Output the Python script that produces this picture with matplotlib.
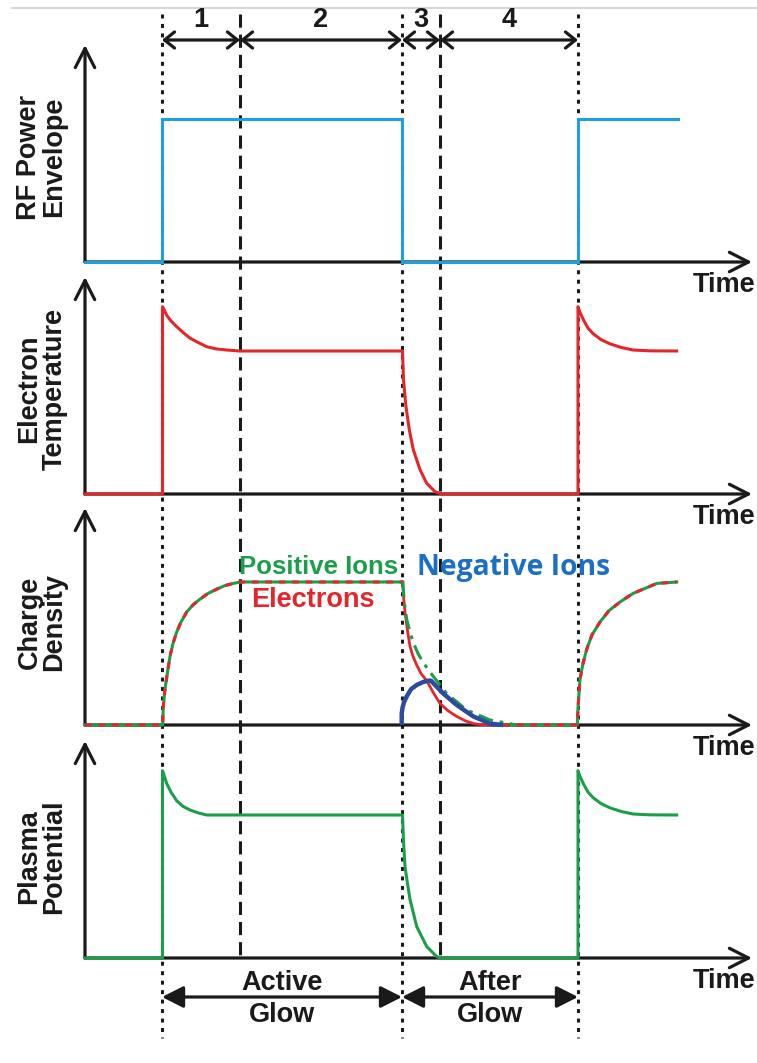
import matplotlib
matplotlib.use("Agg")
import matplotlib.pyplot as plt
from matplotlib.patches import FancyArrowPatch

# ---------------- data (time in arbitrary units, values normalised) ----------------
T_ON, T_P1, T_OFF, T_P3, T_ON2, T_END = 77, 155, 317, 355, 493, 593
T_AXIS_END = 667
phase_bounds = [T_ON, T_P1, T_OFF, T_P3, T_ON2]
phase_labels = ["1", "2", "3", "4"]
glow_labels = ["Active\nGlow", "After\nGlow"]
panel_labels = ["RF Power\nEnvelope", "Electron\nTemperature", "Charge\nDensity", "Plasma\nPotential"]

power_t = [0, 77, 77, 317, 317, 493, 493, 593]
power_v = [0, 0, 1, 1, 0, 0, 1, 1]

te_t = [0, 77.5, 77.5, 79, 81.7, 86, 91.7, 98, 105, 113, 121.7, 131, 141.7, 155,
        317.5, 318.5, 321, 324.3, 328.3, 335, 341.7, 350, 356.7,
        493, 493, 495, 498.3, 503, 508.3, 516, 525, 536, 548, 565, 591.7]
te_v = [0, 0, 1.31, 1.29, 1.25, 1.21, 1.17, 1.13, 1.09, 1.06, 1.03, 1.015, 1.007, 1.0,
        1.0, 0.80, 0.61, 0.45, 0.31, 0.17, 0.075, 0.016, 0,
        0, 1.31, 1.27, 1.22, 1.16, 1.12, 1.08, 1.05, 1.025, 1.007, 1.001, 1.0]

# active glow part (electrons == positive ions)
n_on_t = [0, 77.7, 78.3, 80, 82.5, 85, 88, 91.7, 96, 101.7, 108, 115, 123, 131.7, 140, 148.3, 155, 317.7]
n_on_v = [0, 0, 0.13, 0.25, 0.37, 0.48, 0.57, 0.65, 0.72, 0.79, 0.84, 0.88, 0.92, 0.95, 0.975, 0.99, 1.0, 1.0]
# afterglow electrons
ne_fall_t = [317.7, 318.7, 320, 322.5, 325, 328, 331.7, 336, 341.7, 348, 355, 363, 371.7, 380, 388.3, 396, 405]
ne_fall_v = [1.0, 0.88, 0.79, 0.66, 0.55, 0.48, 0.42, 0.36, 0.31, 0.23, 0.15, 0.10, 0.06, 0.03, 0.01, 0.003, 0]
# afterglow positive ions
ni_fall_t = [317.7, 319.5, 321.7, 325, 328.3, 333, 338.3, 348.3, 361.7, 381.7, 405, 431.7]
ni_fall_v = [1.0, 0.85, 0.74, 0.65, 0.575, 0.50, 0.435, 0.34, 0.22, 0.105, 0.035, 0]
# baseline + next pulse (electrons == positive ions)
n_next_t = [405, 492.3, 493, 495, 498, 501.7, 507, 515, 524, 535, 548, 561.7, 571.7, 591.7]
n_next_v = [0, 0, 0.12, 0.32, 0.43, 0.53, 0.63, 0.72, 0.80, 0.86, 0.92, 0.96, 0.99, 1.0]
# negative ions
nneg_t = [316.7, 316.7, 317.5, 319, 321.7, 326, 331.7, 338, 343.3, 346, 350, 358.3, 371.7, 388.3, 405, 418.3]
nneg_v = [0, 0.08, 0.12, 0.16, 0.20, 0.25, 0.28, 0.30, 0.31, 0.31, 0.28, 0.22, 0.14, 0.06, 0.01, 0]

pp_t = [0, 77.5, 77.5, 79, 81.7, 86, 91.7, 98, 105, 113, 121.7, 135, 155,
        317.5, 318.5, 320, 322.5, 325, 331.7, 341.7, 351.7, 355,
        493, 493, 495, 498.3, 503, 508.3, 516, 525, 536, 548, 565, 591.7]
pp_v = [0, 0, 1.31, 1.28, 1.22, 1.16, 1.10, 1.06, 1.035, 1.015, 1.0, 1.0, 1.0,
        1.0, 0.82, 0.64, 0.52, 0.41, 0.22, 0.08, 0.01, 0,
        0, 1.31, 1.27, 1.22, 1.16, 1.12, 1.08, 1.05, 1.025, 1.007, 1.001, 1.0]

# ---------------- style ----------------
BLUE = "#1E9FE2"
RED = "#E3262B"
GREEN = "#1A9E4A"
NAVY = "#2B4C9E"
NEGTXT = "#1B6FC4"
AX = "#1a1a1a"
FS = 19.5
plt.rcParams["font.family"] = ["Liberation Sans", "DejaVu Sans"]

W, H = 757, 1063
fig = plt.figure(figsize=(W / 100, H / 100), dpi=100)

X0 = 85  # pixel of t = 0
XL = (-X0, W - X0)

# overlay axes: x in time units, y in pixels (top = 0)
ov = fig.add_axes([0, 0, 1, 1])
ov.set_xlim(*XL)
ov.set_ylim(H, 0)
ov.axis("off")

# light rule at very top
ov.plot([12 - X0, W - X0], [8, 8], color="#cfcfcf", lw=1.2)

# vertical phase markers
dotted = dict(color=AX, lw=2.2, linestyle=(0, (1.3, 1.8)))
dashed = dict(color=AX, lw=2.2, linestyle=(0, (4.3, 2.3)))
for t in [T_ON, T_OFF, T_ON2]:
    ov.plot([t, t], [14, 1038], **dotted)
for t in [T_P1, T_P3]:
    ov.plot([t, t], [14, 960], **dashed)

# top phase arrows
for i in range(4):
    a, b = phase_bounds[i], phase_bounds[i + 1]
    ov.add_patch(FancyArrowPatch((a, 40), (b, 40), arrowstyle="<->,head_length=0.36,head_width=0.29",
                                 mutation_scale=20, lw=2.3, color=AX, shrinkA=0, shrinkB=0))
    ov.text((a + b) / 2, 20, phase_labels[i], ha="center", va="center",
            fontsize=FS, fontweight="bold", color=AX)

# bottom glow arrows
glow_bounds = [T_ON, T_OFF, T_ON2]
for i in range(2):
    a, b = glow_bounds[i], glow_bounds[i + 1]
    ov.add_patch(FancyArrowPatch((a, 997), (b, 997), arrowstyle="<|-|>,head_length=0.65,head_width=0.33",
                                 mutation_scale=20, lw=2.3, color=AX, shrinkA=0, shrinkB=0))
    top, bot = glow_labels[i].split("\n")
    ov.text((a + b) / 2, 983, top, ha="center", va="center", fontsize=FS, fontweight="bold", color=AX)
    ov.text((a + b) / 2, 1015, bot, ha="center", va="center", fontsize=FS, fontweight="bold", color=AX)

# ---------------- panels ----------------
baselines = [262, 494, 725, 958]
label_y = [157, 389, 622, 857]
UNIT = 143.0   # pixels per value unit
TOP = 217.0    # axis arrow length in pixels
PAD = 20.0

axes = []
for B in baselines:
    ax = fig.add_axes([0, (H - B - PAD) / H, 1, (TOP + PAD + 5) / H])
    ax.set_xlim(*XL)
    ax.set_ylim(-PAD / UNIT, (TOP + 5) / UNIT)
    ax.axis("off")
    ax.annotate("", xy=(0, TOP / UNIT), xytext=(0, 0),
                arrowprops=dict(arrowstyle="->,head_length=0.55,head_width=0.28", mutation_scale=25,
                                lw=2.3, color=AX, shrinkA=0, shrinkB=0))
    ax.annotate("", xy=(T_AXIS_END, 0), xytext=(0, 0),
                arrowprops=dict(arrowstyle="->,head_length=0.55,head_width=0.28", mutation_scale=25,
                                lw=2.3, color=AX, shrinkA=0, shrinkB=0))
    axes.append(ax)

for B, ly, lab in zip(baselines, label_y, panel_labels):
    ov.text(724 - X0, B + 23, "Time", ha="center", va="center", fontsize=FS, fontweight="bold", color=AX)
    ov.text(42 - X0, ly, lab, ha="center", va="center", rotation=90, fontsize=FS,
            fontweight="bold", color=AX, linespacing=0.95)

# Panel 1: RF power
axes[0].plot(power_t, power_v, color=BLUE, lw=2.2, solid_joinstyle="miter", zorder=3)

# Panel 2: electron temperature
axes[1].plot(te_t, te_v, color=RED, lw=2.2, zorder=3)

# Panel 3: charge density
ax = axes[2]
for ts, vs in ((n_on_t, n_on_v), (n_next_t, n_next_v)):
    ax.plot(ts, vs, color=GREEN, lw=2.2, zorder=3)
    ax.plot(ts, vs, color=RED, lw=2.2, linestyle=(0, (2.2, 2.2)), zorder=4)
ax.plot(ne_fall_t, ne_fall_v, color=RED, lw=2.0, zorder=4)
ax.plot(ni_fall_t, ni_fall_v, color=GREEN, lw=2.2, linestyle=(0, (5, 2.2, 1.2, 2.2)), zorder=5)
ax.plot(nneg_t, nneg_v, color=NAVY, lw=3.2, zorder=6, solid_capstyle="butt")

ov.text(319 - X0, 567, "Positive Ions", ha="center", va="center", fontsize=18.5,
        fontweight="bold", color=GREEN)
ov.text(313 - X0, 600, "Electrons", ha="center", va="center", fontsize=FS,
        fontweight="bold", color=RED)
ov.text(514 - X0, 568, "Negative Ions", ha="center", va="center", fontsize=20.3,
        fontweight="bold", color=NEGTXT, family=["Open Sans", "DejaVu Sans"])

# Panel 4: plasma potential
axes[3].plot(pp_t, pp_v, color=GREEN, lw=2.2, zorder=3)

fig.savefig("out.png", dpi=100)
